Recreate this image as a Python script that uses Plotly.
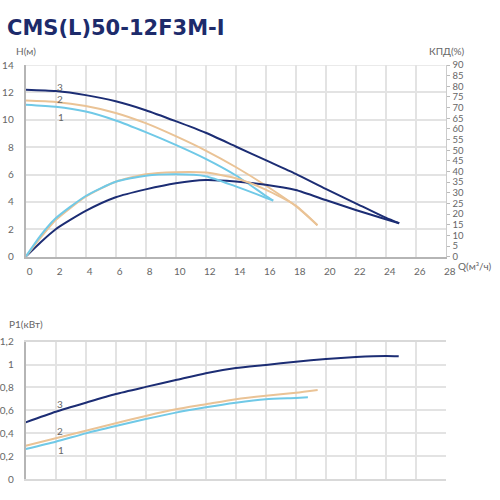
import plotly.graph_objects as go

# pump curves
# H (m) vs Q (m3/h)
q3_h = [0, 2, 4, 6, 8, 10, 12, 14, 16, 18, 20, 22, 24, 24.9]
h3 = [12.2, 12.1, 11.8, 11.35, 10.7, 9.9, 9.05, 8.05, 7.05, 6.05, 4.95, 3.9, 2.85, 2.44]
q2_h = [0, 2, 4, 6, 8, 10, 12, 14, 16, 18, 19.45]
h2 = [11.4, 11.3, 11.0, 10.5, 9.75, 8.8, 7.75, 6.55, 5.2, 3.7, 2.3]
q1_h = [0, 2, 4, 6, 8, 10, 12, 14, 16, 16.5]
h1 = [11.1, 10.95, 10.6, 9.95, 9.1, 8.17, 7.15, 5.95, 4.45, 4.1]

# efficiency (%) vs Q
q3_e = [0, 1, 2, 4, 6, 8, 10, 12, 14, 16, 18, 20, 22, 24, 24.9]
e3 = [0, 6.8, 12.9, 21.5, 27.9, 31.6, 34.5, 36.0, 35.3, 33.8, 31.3, 26.6, 21.9, 17.6, 15.7]
q2_e = [0, 1, 2, 4, 6, 8, 10, 12, 14, 16, 18, 19.45]
e2 = [0, 9, 17.2, 28.2, 35.2, 38.7, 39.7, 39.5, 36.8, 31.5, 24, 14.8]
q1_e = [0, 1, 2, 4, 6, 8, 10, 12, 14, 16, 16.5]
e1 = [0, 10, 18, 28.5, 35.2, 38, 38.7, 37.8, 33, 27.7, 26.3]

# P1 (kW) vs Q
q3_p = [0, 2, 4, 6, 8, 10, 12, 14, 16, 18, 20, 22, 24, 24.85]
p3 = [0.495, 0.588, 0.667, 0.743, 0.805, 0.865, 0.925, 0.97, 0.997, 1.025, 1.049, 1.066, 1.075, 1.072]
q2_p = [0, 2, 4, 6, 8, 10, 12, 14, 16, 18, 19.45]
p2 = [0.291, 0.356, 0.422, 0.487, 0.551, 0.609, 0.653, 0.697, 0.728, 0.754, 0.778]
q1_p = [0, 2, 4, 6, 8, 10, 12, 14, 16, 18, 18.8]
p1 = [0.262, 0.326, 0.399, 0.463, 0.524, 0.580, 0.627, 0.667, 0.697, 0.708, 0.714]

NAVY = "#1c2d74"
TAN = "#eac396"
SKY = "#70c9e7"
GRID = "#e3e3e3"
AXIS = "#b5b5b5"
TXT = "#666666"
FONT = "Lato"

W = H = 500


def px(x):
    return x / W


def py(y):
    return 1 - y / H


fig = go.Figure()

curves = [
    (q3_h, h3, NAVY, "x", "y"),
    (q2_h, h2, TAN, "x", "y"),
    (q1_h, h1, SKY, "x", "y"),
    (q3_e, e3, NAVY, "x", "y2"),
    (q2_e, e2, TAN, "x", "y2"),
    (q1_e, e1, SKY, "x", "y2"),
    (q3_p, p3, NAVY, "x2", "y3"),
    (q2_p, p2, TAN, "x2", "y3"),
    (q1_p, p1, SKY, "x2", "y3"),
]
for qs, vs, col, xa, ya in curves:
    fig.add_trace(go.Scatter(x=qs, y=vs, mode="lines", xaxis=xa, yaxis=ya,
                             line=dict(color=col, width=2, shape="spline", smoothing=0.6),
                             showlegend=False, hoverinfo="skip"))

tick_font = dict(family=FONT, size=10, color=TXT)

fig.update_layout(
    width=W, height=H,
    margin=dict(l=0, r=0, t=0, b=0),
    paper_bgcolor="white", plot_bgcolor="white",
    separators=", ",
    font=dict(family=FONT, color=TXT),
    xaxis=dict(domain=[px(25.7), px(445.7)], range=[0, 28], dtick=2, anchor="y",
               automargin=False,
               showgrid=True, gridcolor=GRID, gridwidth=1.5, zeroline=False,
               showline=True, linecolor=AXIS, linewidth=2, ticks="",
               tickfont=tick_font, ticklabelshift=4, ticklabelstandoff=4),
    yaxis=dict(domain=[py(256.7), py(65)], range=[0, 14], dtick=2, anchor="x",
               automargin=False,
               showgrid=True, gridcolor=GRID, gridwidth=1.5, zeroline=False,
               showline=True, linecolor=AXIS, linewidth=2, ticks="",
               tickfont=tick_font, ticklabelstandoff=8),
    yaxis2=dict(overlaying="y", side="right", anchor="x", range=[0, 90], dtick=5,
                automargin=False,
                showgrid=False, zeroline=False, showline=True, linecolor="#cccccc",
                linewidth=1, ticks="outside", ticklen=3, tickcolor="#bbbbbb",
                tickfont=dict(family=FONT, size=9.5, color=TXT), ticklabelstandoff=1),
    xaxis2=dict(domain=[px(25.7), px(446)], range=[0, 28], dtick=2, anchor="y3",
                automargin=False,
                showgrid=True, gridcolor=GRID, gridwidth=1.5, zeroline=False,
                showline=True, linecolor="#d9d9d9", linewidth=1.5, mirror=True,
                showticklabels=False, ticks=""),
    yaxis3=dict(domain=[py(479), py(341.7)], range=[0, 1.2], dtick=0.2, anchor="x2",
                automargin=False,
                showgrid=True, gridcolor=GRID, gridwidth=1.5, zeroline=False,
                showline=True, linecolor=AXIS, linewidth=2, ticks="",
                tickfont=tick_font, ticklabelstandoff=8),
)

# top border of the head chart
fig.add_shape(type="line", xref="x", yref="y", x0=0, x1=28, y0=14, y1=14,
              line=dict(color=GRID, width=1.5))

ann = [
    ("CMS(L)50-12F3M-I", 5, 28, "left", dict(family="DejaVu Sans", size=21, color="#1d2b6b", weight=700)),
    ("H(м)", 14, 51, "left", dict(family=FONT, size=10, color=TXT)),
    ("КПД(%)", 427, 51, "left", dict(family=FONT, size=10, color=TXT)),
    ("Q(м³/ч)", 456, 266, "left", dict(family=FONT, size=10, color=TXT)),
    ("P1(кВт)", 7, 324, "left", dict(family=FONT, size=10, color=TXT)),
    ("3", 55, 87, "left", dict(family=FONT, size=10, color=TXT)),
    ("2", 55, 99, "left", dict(family=FONT, size=10, color=TXT)),
    ("1", 56, 117, "left", dict(family=FONT, size=10, color=TXT)),
    ("3", 55, 404, "left", dict(family=FONT, size=10, color=TXT)),
    ("2", 55, 431, "left", dict(family=FONT, size=10, color=TXT)),
    ("1", 56, 450, "left", dict(family=FONT, size=10, color=TXT)),
]
for text, x, y, xa, f in ann:
    fig.add_annotation(text=text, xref="paper", yref="paper", x=px(x), y=py(y),
                       xanchor=xa, yanchor="middle", showarrow=False, font=f)

# the page's default body margin would push the 500x500 figure off the window
fig.write_html("out.html", config={"displayModeBar": False},
               post_script="document.body.style.margin='0';")
